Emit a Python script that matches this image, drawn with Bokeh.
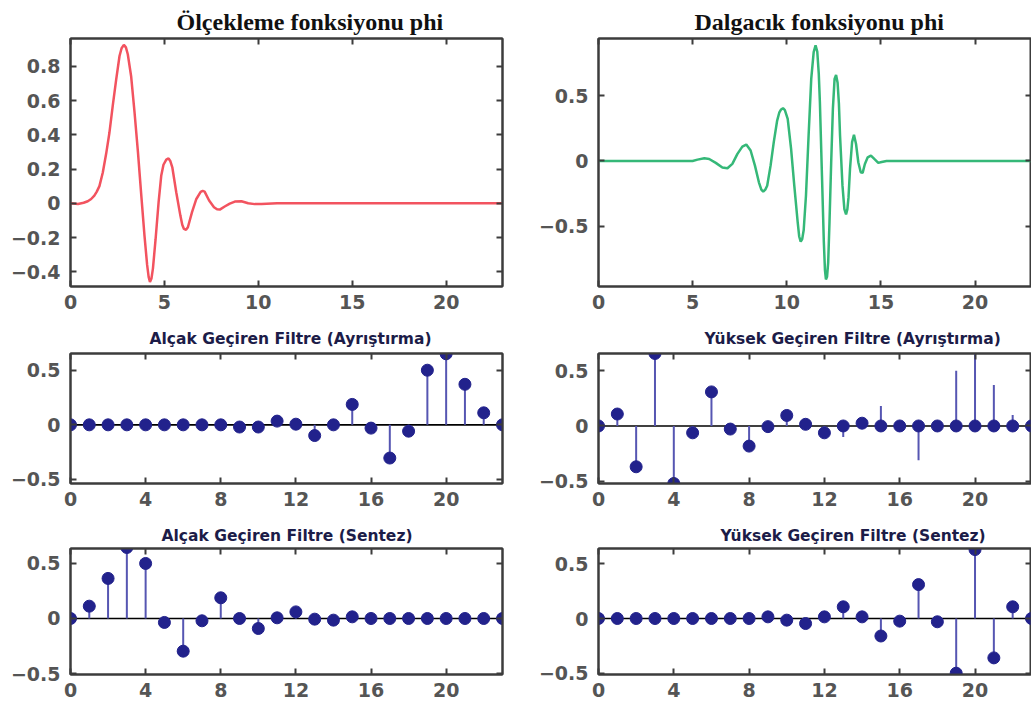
from bokeh.plotting import figure
from bokeh.models import ColumnDataSource, Range1d, FixedTicker, LinearAxis, Span
from bokeh.layouts import column, row
from bokeh.embed import file_html
from bokeh.resources import INLINE

# ---------------- data ----------------
# scaling function phi (x, y)
phi_x = [0, 0.4, 0.7, 0.92, 1.1, 1.27, 1.4, 1.54, 1.72, 1.9, 2.07, 2.25, 2.43, 2.61, 2.72, 2.84,
         2.95, 3.05, 3.23, 3.41, 3.59, 3.77, 3.94, 4.08, 4.16, 4.23, 4.31, 4.39, 4.53, 4.69,
         4.83, 4.95, 5.1, 5.22, 5.32, 5.42, 5.63, 5.85, 5.95, 6.04, 6.15, 6.25, 6.47, 6.70,
         6.93, 7.04, 7.14, 7.38, 7.64, 7.8, 7.95, 8.21, 8.48, 8.75, 9.1, 9.46, 9.81, 10.17, 11, 23]
phi_y = [0, -0.004, 0.003, 0.012, 0.025, 0.045, 0.068, 0.10, 0.18, 0.29, 0.41, 0.57, 0.72, 0.86, 0.905, 0.925,
         0.91, 0.87, 0.74, 0.53, 0.30, 0.045, -0.19, -0.36, -0.43, -0.46, -0.44, -0.38, -0.21, 0.005,
         0.16, 0.225, 0.255, 0.262, 0.245, 0.21, 0.064, -0.072, -0.125, -0.15, -0.155, -0.14, -0.052, 0.025,
         0.066, 0.072, 0.068, 0.016, -0.023, -0.035, -0.037, -0.019, -0.002, 0.01, 0.012, 0.0, -0.005, -0.004, 0, 0]

# wavelet function psi (x, y)
psi_x = [0, 5.0, 5.26, 5.62, 5.88, 6.23, 6.58, 6.85, 7.11, 7.38, 7.64, 7.85, 8.08, 8.31, 8.52, 8.65,
         8.75, 8.86, 8.96, 9.14, 9.31, 9.49, 9.60, 9.70, 9.80, 9.90, 10.05, 10.23, 10.40, 10.58,
         10.66, 10.74, 10.82, 10.90, 11.02, 11.16, 11.30, 11.43, 11.53, 11.62, 11.70, 11.76, 11.87,
         11.97, 12.03, 12.08, 12.14, 12.20, 12.27, 12.36, 12.45, 12.54, 12.62, 12.70, 12.77, 12.83,
         12.96, 13.06, 13.15, 13.22, 13.28, 13.36, 13.47, 13.57, 13.68, 13.80, 13.93, 14.03, 14.15,
         14.30, 14.47, 14.65, 14.86, 15.04, 15.30, 23]
psi_y = [0, 0, 0.01, 0.02, 0.015, -0.015, -0.05, -0.056, -0.023, 0.054, 0.11, 0.126, 0.08, -0.036, -0.164, -0.22,
         -0.236, -0.22, -0.19, -0.036, 0.144, 0.31, 0.37, 0.395, 0.405, 0.39, 0.323, 0.092, -0.19, -0.47,
         -0.58, -0.62, -0.60, -0.53, -0.267, 0.195, 0.63, 0.836, 0.887, 0.84, 0.67, 0.45, -0.113,
         -0.626, -0.84, -0.91, -0.89, -0.78, -0.47, -0.01, 0.40, 0.63, 0.66, 0.60, 0.44, 0.195,
         -0.19, -0.37, -0.41, -0.37, -0.28, -0.06, 0.144, 0.2, 0.13, -0.01, -0.087, -0.092, -0.023,
         0.028, 0.041, 0.015, -0.015, -0.008, 0, 0]

filter_index = list(range(24))
lo_d = [0, 0, 0, 0, 0, 0, 0, 0, 0, -0.02, -0.02, 0.034, 0.006, -0.098, 0, 0.187, -0.03, -0.304,
        -0.058, 0.5, 0.65, 0.371, 0.11, 0]
hi_d = [0, 0.108, -0.369, 0.655, -0.52, -0.062, 0.308, -0.028, -0.182, -0.006, 0.095, 0.015, -0.062,
        0, 0.025, 0, 0, 0, 0, 0, 0, 0, 0, 0]
hi_d_extra_stems = [0, 0, 0, 0, 0, 0, 0, 0, 0, 0, 0, 0, 0, -0.1, 0, 0.18, 0, -0.31, 0, 0.5, 0.65,
                    0.37, 0.1, 0]
lo_r = [0, 0.112, 0.364, 0.645, 0.5, -0.036, -0.297, -0.021, 0.188, 0, -0.091, 0.006, 0.06, -0.006,
        -0.015, 0.015, 0, 0, 0, 0, 0, 0, 0, 0]
hi_r = [0, 0, 0, 0, 0, 0, 0, 0, 0, 0.015, -0.015, -0.046, 0.015, 0.107, 0.015, -0.16, -0.024, 0.31,
        -0.03, -0.50, 0.63, -0.36, 0.107, 0]

titles = ["Ölçekleme fonksiyonu phi", "Dalgacık fonksiyonu phi",
          "Alçak Geçiren Filtre (Ayrıştırma)", "Yüksek Geçiren Filtre (Ayrıştırma)",
          "Alçak Geçiren Filtre (Sentez)", "Yüksek Geçiren Filtre (Sentez)"]

x_ticks_func = [0, 5, 10, 15, 20]
x_labels_func = ["0", "5", "10", "15", "20"]
x_ticks_filt = [0, 4, 8, 12, 16, 20]
x_labels_filt = ["0", "4", "8", "12", "16", "20"]
y_ticks_phi = [-0.4, -0.2, 0, 0.2, 0.4, 0.6, 0.8]
y_labels_phi = ["\u22120.4", "\u22120.2", "0", "0.2", "0.4", "0.6", "0.8"]
y_ticks_half = [-0.5, 0, 0.5]
y_labels_half = ["\u22120.5", "0", "0.5"]

# ---------------- styling ----------------
FRAME = "#3c3c3c"
LABEL = "#555555"
RED = "#f2535f"
GREEN = "#35b878"
MARK = "#22228c"
STEM = "#5656b2"


def make_fig(width, height, bl, br, bt, bb, yr, xt, xl, yt, yl, title, tfont, tsize, tcolor,
             toffset, tstandoff):
    p = figure(width=width, height=height, x_range=Range1d(0, 23), y_range=Range1d(*yr),
               output_backend="svg", toolbar_location=None,
               min_border_left=bl, min_border_right=br, min_border_top=bt, min_border_bottom=bb)
    p.grid.visible = False
    p.background_fill_color = "white"
    p.border_fill_color = "white"
    p.outline_line_color = FRAME
    p.outline_line_width = 2

    for ax, ticks, labels, so in ((p.xaxis[0], xt, xl, 8), (p.yaxis[0], yt, yl, 10)):
        ax.ticker = FixedTicker(ticks=ticks)
        ax.major_label_overrides = {t: s for t, s in zip(ticks, labels)}
        ax.major_label_text_font = "DejaVu Sans"
        ax.major_label_text_font_style = "bold"
        ax.major_label_text_font_size = "19px"
        ax.major_label_text_color = LABEL
        ax.major_label_standoff = so
        ax.major_tick_in = 6
        ax.major_tick_out = 0
        ax.minor_tick_line_color = None
        ax.axis_line_color = FRAME
        ax.axis_line_width = 2
        ax.major_tick_line_color = FRAME
        ax.major_tick_line_width = 2

    for side, ticks in (("above", xt), ("right", yt)):
        ax = LinearAxis(ticker=FixedTicker(ticks=ticks), major_label_text_color=None,
                        major_label_text_font_size="1px", major_label_standoff=0,
                        major_tick_in=6, major_tick_out=0, minor_tick_line_color=None,
                        axis_line_color=FRAME, axis_line_width=2,
                        major_tick_line_color=FRAME, major_tick_line_width=2)
        p.add_layout(ax, side)

    p.title.text = title
    p.title.text_font = tfont
    p.title.text_font_size = tsize
    p.title.text_font_style = "bold"
    p.title.text_color = tcolor
    p.title.align = "left"
    p.title.offset = toffset
    p.title.standoff = tstandoff
    return p


def add_stems(p, values, with_markers=True):
    src = ColumnDataSource(dict(n=filter_index, v=values))
    p.segment(x0="n", y0=0, x1="n", y1="v", source=src, line_color=STEM, line_width=2)
    if with_markers:
        p.scatter(x="n", y="v", source=src, size=12, fill_color=MARK, line_color=MARK)


def add_baseline(p):
    p.add_layout(Span(location=0, dimension="width", line_color="black", line_width=1.6,
                      level="underlay"))


LW, RW = 520, 511
# row 1
p1 = make_fig(LW, 322, 70, 18, 38, 36, (-0.486, 0.962), x_ticks_func, x_labels_func,
              y_ticks_phi, y_labels_phi, titles[0], "Liberation Serif", "24px", "#111111", 106, 8)
p1.line(phi_x, phi_y, line_color=RED, line_width=2.5)

p2 = make_fig(RW, 322, 78, 0, 38, 36, (-0.964, 0.94), x_ticks_func, x_labels_func,
              y_ticks_half, y_labels_half, titles[1], "Liberation Serif", "24px", "#111111", 96, 8)
p2.line(psi_x, psi_y, line_color=GREEN, line_width=2.5)

# row 2
p3 = make_fig(LW, 197, 70, 18, 31, 36, (-0.537, 0.653), x_ticks_filt, x_labels_filt,
              y_ticks_half, y_labels_half, titles[2], "DejaVu Sans", "15.5px", "#1c1c48", 79, 11)
add_baseline(p3)
add_stems(p3, lo_d)

p4 = make_fig(RW, 197, 78, 0, 31, 36, (-0.52, 0.655), x_ticks_filt, x_labels_filt,
              y_ticks_half, y_labels_half, titles[3], "DejaVu Sans", "15.5px", "#1c1c48", 106, 11)
add_baseline(p4)
add_stems(p4, hi_d_extra_stems, with_markers=False)
add_stems(p4, hi_d)

# row 3
p5 = make_fig(LW, 190, 70, 18, 29, 35, (-0.509, 0.636), x_ticks_filt, x_labels_filt,
              y_ticks_half, y_labels_half, titles[4], "DejaVu Sans", "15.5px", "#1c1c48", 91, 8)
add_baseline(p5)
add_stems(p5, lo_r)

p6 = make_fig(RW, 190, 78, 0, 29, 35, (-0.512, 0.64), x_ticks_filt, x_labels_filt,
              y_ticks_half, y_labels_half, titles[5], "DejaVu Sans", "15.5px", "#1c1c48", 122, 8)
add_baseline(p6)
add_stems(p6, hi_r)

layout = column(row(p1, p2), row(p3, p4), row(p5, p6))
open("out.html", "w").write(file_html(layout, INLINE))
